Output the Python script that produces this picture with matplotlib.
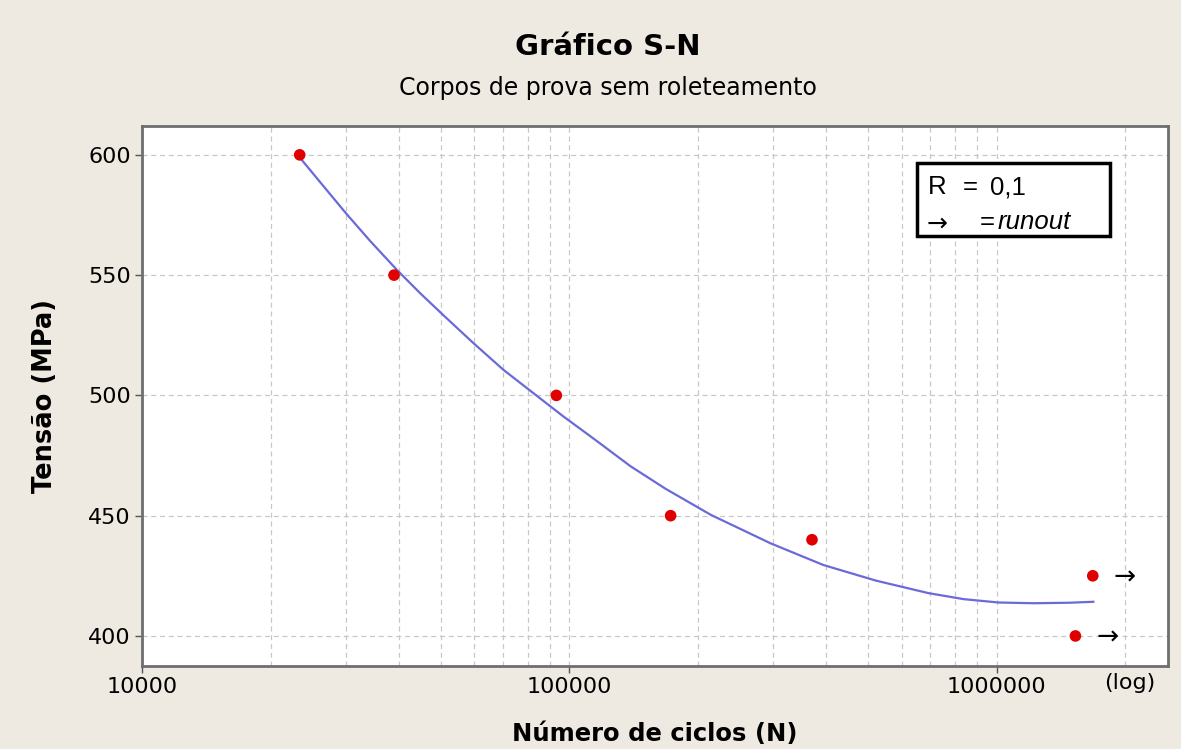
import matplotlib
matplotlib.use("Agg")
from matplotlib import pyplot as plt
from matplotlib.patches import Rectangle
from matplotlib.ticker import LogLocator, NullFormatter, FixedLocator

# measured specimens
ciclos = [23400, 38900, 93300, 172700, 370000, 1680000, 1530000]
tensao = [600, 550, 500, 450, 440, 425, 400]
runout = [False, False, False, False, False, True, True]

# fitted S-N curve
curva_n = [23330, 26590, 30160, 34200, 39500, 44770, 50780, 59700, 70180,
           82480, 96980, 115100, 139000, 168000, 214700, 296000, 393200,
           522200, 693000, 837500, 1011000, 1222000, 1476000, 1685000]
curva_s = [599.2, 587.0, 575.3, 564.2, 552.2, 542.5, 533.3, 521.7, 510.6,
           500.9, 491.2, 481.5, 470.6, 461.2, 450.3, 438.5, 429.5,
           423.0, 417.8, 415.3, 413.9, 413.6, 413.8, 414.2]

x_ticks = [10000, 100000, 1000000]
x_labels = ["10000", "100000", "1000000"]
y_ticks = [400, 450, 500, 550, 600]

bg = "#eeeae1"
fig = plt.figure(figsize=(11.81, 7.49), dpi=100, facecolor=bg)
ax = fig.add_axes([0.1202, 0.1108, 0.8688, 0.721])
ax.set_facecolor("white")

ax.set_xscale("log")
ax.set_xlim(10000, 2.52e6)
ax.set_ylim(387.5, 612)

ax.plot(curva_n, curva_s, color="#6a6ad8", lw=1.6, zorder=3)
ax.scatter(ciclos, tensao, s=70, color="#e00000", zorder=4, edgecolors="none")
for n, s, r in zip(ciclos, tensao, runout):
    if r:
        ax.annotate("\u2192", (n, s), xytext=(15, -1), textcoords="offset points",
                    ha="left", va="center", fontsize=19, color="black",
                    family="DejaVu Sans")

ax.xaxis.set_major_locator(FixedLocator(x_ticks))
ax.set_xticklabels(x_labels)
ax.xaxis.set_minor_locator(LogLocator(base=10, subs=range(2, 10)))
ax.xaxis.set_minor_formatter(NullFormatter())
ax.set_yticks(y_ticks)
ax.tick_params(axis="both", which="major", labelsize=16, length=5,
               width=1, color="#555555", pad=3)
ax.tick_params(axis="x", which="minor", length=0)

ax.grid(True, which="both", axis="x", ls=(0, (4, 3)), color="#c8c8c8", lw=0.9)
ax.grid(True, which="major", axis="y", ls=(0, (4, 3)), color="#c8c8c8", lw=0.9)
ax.set_axisbelow(True)
for sp in ax.spines.values():
    sp.set_color("#6e6e6e")
    sp.set_linewidth(2)

fig.text(0.515, 0.937, "Gráfico S-N", ha="center", va="center",
         fontsize=21, fontweight="bold")
fig.text(0.515, 0.8825, "Corpos de prova sem roleteamento", ha="center",
         va="center", fontsize=17)
ax.set_xlabel("Número de ciclos (N)", fontsize=17.5, fontweight="bold", labelpad=18)
ax.set_ylabel("Tensão (MPa)", fontsize=18.5, fontweight="bold", labelpad=22)
fig.text(0.957, 0.088, "(log)", ha="center", va="center", fontsize=16)

# legend box
ax.add_patch(Rectangle((0.7554, 0.7963), 0.1881, 0.1352, transform=ax.transAxes,
                       facecolor="white", edgecolor="black", lw=2.5, zorder=6))
leg = dict(transform=ax.transAxes, va="center", fontsize=18.5,
           family="Liberation Sans", zorder=7)
ax.text(0.766, 0.887, "R", ha="left", **leg)
ax.text(0.800, 0.887, "=", ha="left", **leg)
ax.text(0.8265, 0.887, "0,1", ha="left", **leg)
ax.text(0.765, 0.820, "\u2192", ha="left", va="center", fontsize=18,
        family="DejaVu Sans", transform=ax.transAxes, zorder=7)
ax.text(0.8168, 0.822, "=", ha="left", **leg)
ax.text(0.834, 0.822, "runout", ha="left", style="italic", **leg)

plt.savefig("out.png", dpi=100, facecolor=bg)
